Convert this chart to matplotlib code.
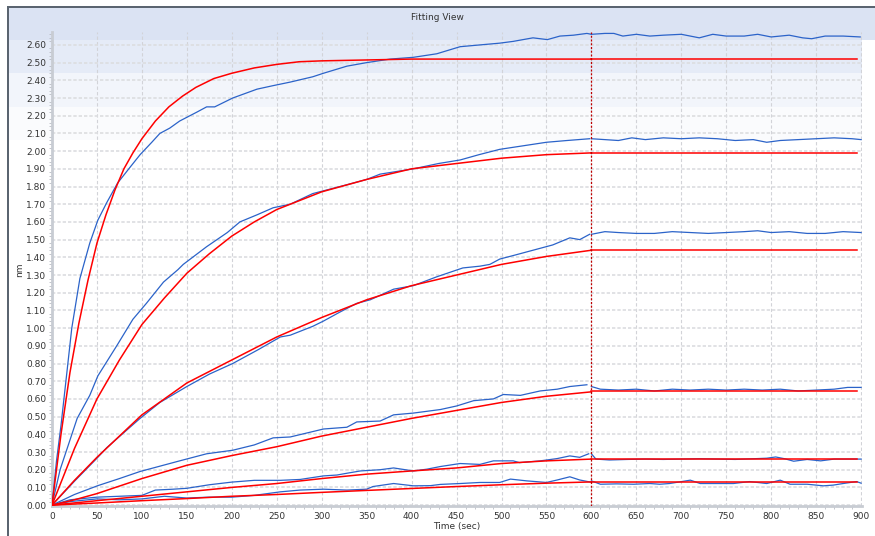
import matplotlib
matplotlib.use("Agg")
import matplotlib.pyplot as plt
from matplotlib.patches import Rectangle
from matplotlib.ticker import MultipleLocator

# ---- data (time in sec, response in nm) ----
# association phase, measured (blue)
t_b1 = [0, 5, 10, 17, 22, 31, 42, 51, 61, 73, 87, 98, 111, 120, 131, 142, 161, 172, 181, 201, 228, 246,
        265, 290, 302, 328, 350, 376, 402, 428, 454, 476, 498, 513, 535, 551, 565, 580, 595, 600]
v_b1 = [0, 0.25, 0.45, 0.77, 1.00, 1.28, 1.48, 1.61, 1.71, 1.82, 1.91, 1.98, 2.05, 2.10, 2.13, 2.17, 2.22,
        2.25, 2.25, 2.30, 2.35, 2.37, 2.39, 2.42, 2.44, 2.48, 2.50, 2.52, 2.53, 2.55, 2.59, 2.60, 2.61,
        2.62, 2.64, 2.63, 2.65, 2.655, 2.665, 2.66]
t_b2 = [0, 9, 28, 42, 51, 72, 90, 105, 124, 140, 146, 172, 195, 209, 228, 246, 265, 290, 328, 350, 365,
        402, 430, 454, 475, 498, 524, 550, 573, 598]
v_b2 = [0, 0.20, 0.49, 0.62, 0.73, 0.90, 1.05, 1.14, 1.26, 1.33, 1.36, 1.46, 1.54, 1.60, 1.64, 1.68, 1.70,
        1.76, 1.81, 1.84, 1.87, 1.90, 1.93, 1.95, 1.98, 2.01, 2.03, 2.05, 2.06, 2.07]
t_b3 = [0, 25, 50, 61, 80, 98, 120, 150, 175, 201, 230, 254, 265, 290, 302, 320, 339, 354, 380, 402, 428,
        457, 476, 487, 498, 513, 535, 557, 576, 587, 598]
v_b3 = [0, 0.135, 0.265, 0.325, 0.41, 0.49, 0.58, 0.67, 0.74, 0.80, 0.88, 0.95, 0.96, 1.01, 1.04, 1.09,
        1.14, 1.16, 1.22, 1.24, 1.29, 1.34, 1.35, 1.36, 1.39, 1.41, 1.44, 1.47, 1.51, 1.50, 1.53]
t_b4 = [0, 25, 51, 75, 98, 120, 142, 172, 201, 225, 246, 265, 302, 328, 339, 365, 380, 402, 432, 450, 469,
        491, 502, 521, 543, 562, 576, 595]
v_b4 = [0, 0.06, 0.11, 0.15, 0.19, 0.22, 0.25, 0.29, 0.31, 0.34, 0.38, 0.385, 0.43, 0.44, 0.47, 0.475,
        0.51, 0.52, 0.54, 0.56, 0.59, 0.60, 0.625, 0.62, 0.645, 0.655, 0.67, 0.68]
t_b5 = [0, 20, 50, 75, 100, 115, 135, 150, 175, 200, 225, 254, 276, 302, 317, 328, 343, 365, 380, 402, 417,
        432, 454, 476, 491, 513, 520, 543, 562, 576, 587, 597]
v_b5 = [0, 0.03, 0.045, 0.05, 0.055, 0.085, 0.09, 0.095, 0.115, 0.13, 0.14, 0.14, 0.145, 0.165, 0.17,
        0.18, 0.193, 0.20, 0.21, 0.193, 0.203, 0.218, 0.235, 0.23, 0.25, 0.25, 0.24, 0.25, 0.263, 0.278,
        0.27, 0.29]
t_b6 = [0, 20, 50, 75, 100, 125, 150, 175, 200, 225, 254, 276, 302, 328, 350, 357, 380, 402, 421, 432, 454,
        476, 498, 510, 528, 550, 562, 576, 587, 598]
v_b6 = [0, 0.02, 0.035, 0.03, 0.035, 0.05, 0.04, 0.045, 0.045, 0.055, 0.075, 0.085, 0.09, 0.085, 0.09,
        0.105, 0.122, 0.109, 0.11, 0.117, 0.122, 0.128, 0.128, 0.147, 0.137, 0.128, 0.142, 0.16, 0.142, 0.131]

# dissociation phase, measured (blue)
t_d1 = [600, 615, 625, 635, 650, 665, 680, 700, 720, 735, 750, 770, 785, 800, 820, 835, 845, 860, 880, 899]
v_d1 = [2.66, 2.665, 2.665, 2.65, 2.66, 2.65, 2.655, 2.66, 2.64, 2.66, 2.65, 2.65, 2.66, 2.645, 2.655,
        2.64, 2.635, 2.65, 2.65, 2.645]
t_d2 = [600, 615, 630, 645, 660, 680, 700, 720, 740, 760, 780, 795, 810, 830, 850, 870, 890, 900]
v_d2 = [2.07, 2.065, 2.06, 2.075, 2.065, 2.075, 2.07, 2.075, 2.07, 2.06, 2.065, 2.05, 2.06, 2.065, 2.07,
        2.075, 2.07, 2.065]
t_d3 = [600, 615, 630, 650, 670, 690, 710, 730, 750, 770, 785, 800, 820, 840, 860, 880, 900]
v_d3 = [1.53, 1.545, 1.54, 1.535, 1.535, 1.545, 1.54, 1.535, 1.54, 1.545, 1.55, 1.54, 1.545, 1.535,
        1.535, 1.545, 1.54]
t_d4 = [600, 610, 630, 650, 670, 690, 710, 730, 750, 770, 790, 810, 830, 850, 870, 885, 900]
v_d4 = [0.67, 0.655, 0.65, 0.655, 0.645, 0.655, 0.65, 0.655, 0.65, 0.655, 0.65, 0.655, 0.645, 0.65,
        0.655, 0.665, 0.665]
t_d5 = [600, 605, 620, 640, 660, 680, 700, 720, 740, 760, 780, 795, 805, 815, 825, 840, 855, 870, 885, 900]
v_d5 = [0.29, 0.26, 0.255, 0.258, 0.26, 0.258, 0.26, 0.262, 0.26, 0.258, 0.262, 0.265, 0.272, 0.262,
        0.248, 0.258, 0.25, 0.26, 0.26, 0.26]
t_d6 = [600, 610, 628, 647, 665, 676, 687, 710, 721, 739, 758, 776, 795, 810, 821, 840, 858, 869, 880, 895, 900]
v_d6 = [0.137, 0.118, 0.12, 0.118, 0.122, 0.118, 0.122, 0.141, 0.122, 0.122, 0.122, 0.133, 0.122, 0.141,
        0.118, 0.118, 0.109, 0.113, 0.122, 0.133, 0.124]

# fitted curves (red)
t_r1 = [0, 10, 20, 30, 40, 50, 60, 70, 80, 90, 100, 115, 130, 145, 160, 180, 200, 225, 250, 275, 300,
        350, 400, 450, 500, 550, 600]
v_r1 = [0, 0.40, 0.75, 1.03, 1.27, 1.48, 1.64, 1.78, 1.90, 1.99, 2.07, 2.17, 2.25, 2.31, 2.36, 2.41, 2.44,
        2.47, 2.49, 2.505, 2.51, 2.515, 2.52, 2.52, 2.52, 2.52, 2.52]
t_r2 = [0, 25, 50, 75, 100, 125, 150, 175, 200, 225, 250, 275, 300, 350, 400, 450, 500, 550, 600]
v_r2 = [0, 0.32, 0.60, 0.82, 1.02, 1.17, 1.31, 1.42, 1.52, 1.60, 1.67, 1.72, 1.77, 1.84, 1.90, 1.93,
        1.96, 1.98, 1.99]
t_r3 = [0, 25, 50, 75, 100, 150, 200, 250, 300, 350, 400, 450, 500, 550, 600]
v_r3 = [0, 0.14, 0.27, 0.39, 0.51, 0.69, 0.82, 0.95, 1.06, 1.16, 1.24, 1.30, 1.36, 1.405, 1.44]
t_r4 = [0, 25, 50, 100, 150, 200, 250, 300, 350, 400, 450, 500, 550, 600]
v_r4 = [0, 0.03, 0.065, 0.15, 0.225, 0.28, 0.33, 0.39, 0.44, 0.49, 0.535, 0.58, 0.615, 0.64]
t_r5 = [0, 50, 100, 150, 200, 250, 300, 350, 400, 450, 500, 550, 600]
v_r5 = [0, 0.025, 0.05, 0.075, 0.10, 0.122, 0.15, 0.175, 0.193, 0.21, 0.235, 0.25, 0.26]
t_r6 = [0, 50, 100, 150, 200, 250, 300, 350, 400, 450, 500, 550, 600]
v_r6 = [0, 0.012, 0.025, 0.037, 0.05, 0.06, 0.072, 0.083, 0.094, 0.105, 0.115, 0.124, 0.131]

# fitted dissociation plateaus
t_rd = [600, 895]
plateaus = [2.52, 1.99, 1.44, 0.643, 0.259, 0.133]

blue = "#2b63c9"
red = "#ff0000"

fig = plt.figure(figsize=(8.75, 5.36), dpi=100)
W, H = 875, 536


def band(y0, y1, color, x1=862):
    # rectangle in pixel units of the figure (top-left origin)
    fig.patches.append(Rectangle((8 / W, 1 - y1 / H), (x1 - 8) / W, (y1 - y0) / H,
                                 transform=fig.transFigure, color=color, zorder=-10, lw=0))


band(40, 73, "#e5ebf7")
band(73, 107, "#f2f5fb")
band(107, 140, "#fafbfd")
band(7, 40, "#dbe3f3", x1=875)
# dark frame on the left and top
fig.patches.append(Rectangle((7 / W, 0), 2 / W, 1 - 7 / H, transform=fig.transFigure,
                             color="#5a6470", zorder=-5, lw=0))
fig.patches.append(Rectangle((7 / W, 1 - 8 / H), 1 - 7 / W, 1.5 / H, transform=fig.transFigure,
                             color="#5a6470", zorder=-5, lw=0))

ax = fig.add_axes([52 / W, 1 - 506 / H, 810 / W, 474 / H])
ax.set_facecolor("none")

blues = [(t_b1, v_b1), (t_b2, v_b2), (t_b3, v_b3), (t_b4, v_b4), (t_b5, v_b5), (t_b6, v_b6)]
diss = [(t_d1, v_d1), (t_d2, v_d2), (t_d3, v_d3), (t_d4, v_d4), (t_d5, v_d5), (t_d6, v_d6)]
reds = [(t_r1, v_r1), (t_r2, v_r2), (t_r3, v_r3), (t_r4, v_r4), (t_r5, v_r5), (t_r6, v_r6)]

for t, v in blues:
    ax.plot(t, v, color=blue, lw=0.9, zorder=3)
for t, v in diss:
    ax.plot(t, v, color=blue, lw=0.9, zorder=3)
for t, v in reds:
    ax.plot(t, v, color=red, lw=1.1, zorder=4)
for p in plateaus:
    ax.plot(t_rd, [p, p], color=red, lw=1.1, zorder=4)

ax.axvline(600, color="#c00000", lw=0.9, dashes=(1.6, 1.4), zorder=5)

ax.set_xlim(0, 901)
ax.set_ylim(-0.005, 2.673)
ax.xaxis.set_major_locator(MultipleLocator(50))
ax.xaxis.set_minor_locator(MultipleLocator(10))
ax.yaxis.set_major_locator(MultipleLocator(0.1))
ax.yaxis.set_minor_locator(MultipleLocator(0.02))
ax.yaxis.set_major_formatter(plt.FormatStrFormatter("%.2f"))

ax.grid(axis="x", which="major", color="#d2d3d8", lw=0.8, dashes=(3, 2))
ax.grid(axis="y", which="major", color="#dcdde0", lw=1.2, dashes=(2, 1.2))
ax.set_axisbelow(True)

for s in ("top", "right"):
    ax.spines[s].set_visible(False)
for s in ("left", "bottom"):
    ax.spines[s].set_color("#c8ccd3")
    ax.spines[s].set_linewidth(2)

ax.tick_params(which="major", length=0, labelsize=6.5, labelcolor="#333333", pad=4)
ax.tick_params(which="minor", length=2.5, width=0.6, color="#b8bcc4", direction="out")

fig.text(437 / W, 1 - 17 / H, "Fitting View", ha="center", va="center", fontsize=6.5, color="#333333")
fig.text(457 / W, 1 - 527 / H, "Time (sec)", ha="center", va="center", fontsize=6.5, color="#333333")
fig.text(20 / W, 1 - 270 / H, "nm", ha="center", va="center", rotation=90, fontsize=6.5, color="#333333")

fig.savefig("out.png", dpi=100)
